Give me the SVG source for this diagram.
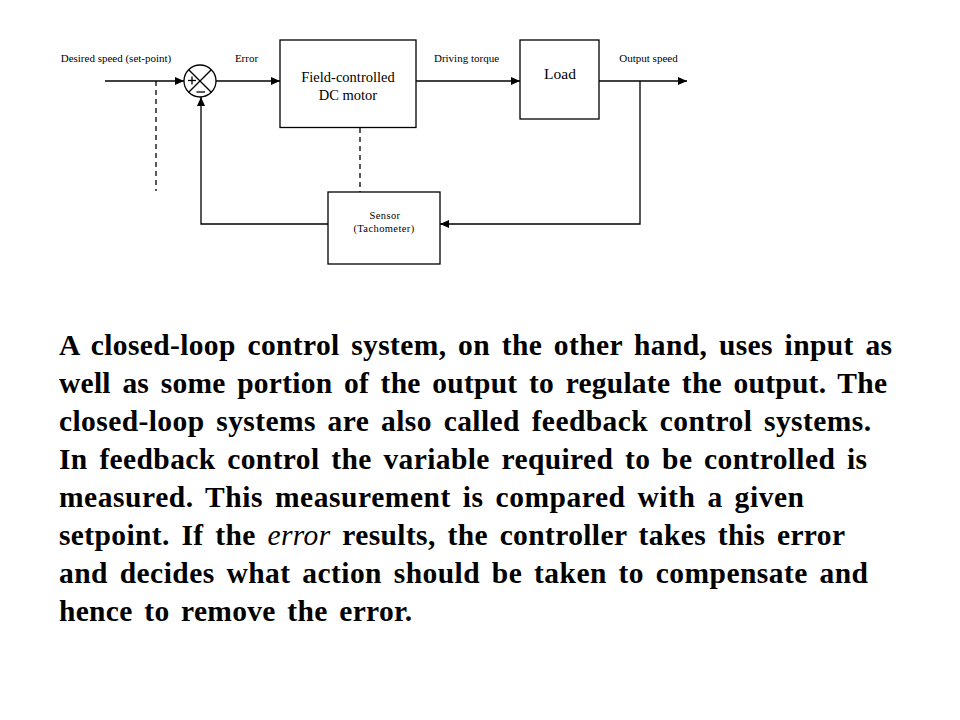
<svg xmlns="http://www.w3.org/2000/svg" width="960" height="720" viewBox="0 0 960 720">
<style>
.box{fill:#fff;stroke:#000;stroke-width:1.3}
.ln{fill:none;stroke:#000;stroke-width:1.3}
.dash{fill:none;stroke:#000;stroke-width:1.3;stroke-dasharray:5,4}
.lbl{font-family:"Liberation Serif","Times New Roman",serif;font-size:11px;fill:#000;text-anchor:middle}
.nt{font-family:"Liberation Serif","Times New Roman",serif;fill:#000;text-anchor:middle}
.para{font-family:"Liberation Serif","Times New Roman",serif;font-size:29.5px;font-weight:bold;fill:#000;word-spacing:4px}
</style>
<defs>
<marker id="arr" markerWidth="9" markerHeight="8" refX="9" refY="4" orient="auto" markerUnits="userSpaceOnUse">
<path d="M0,0 L9,4 L0,8 z" fill="#000"/>
</marker>
</defs>
<rect width="960" height="720" fill="#fff"/>

<g id="connectors">
<line class="ln" x1="105" y1="81" x2="184" y2="81" marker-end="url(#arr)"/>
<line class="ln" x1="216" y1="81" x2="280" y2="81" marker-end="url(#arr)"/>
<line class="ln" x1="416" y1="81" x2="520" y2="81" marker-end="url(#arr)"/>
<line class="ln" x1="599" y1="81" x2="687" y2="81" marker-end="url(#arr)"/>
<polyline class="ln" points="640,81 640,224 440,224" marker-end="url(#arr)"/>
<polyline class="ln" points="328,224 201,224 201,97" marker-end="url(#arr)"/>
<line class="dash" x1="156" y1="81" x2="156" y2="191"/>
<line class="dash" x1="360" y1="128" x2="360" y2="192"/>
</g>

<g id="labels">
<text class="lbl" x="116" y="62">Desired speed (set-point)</text>
<text class="lbl" x="246.5" y="62">Error</text>
<text class="lbl" x="466.5" y="62">Driving torque</text>
<text class="lbl" x="648.5" y="62">Output speed</text>
</g>

<g id="summing-junction">
<circle cx="200" cy="81" r="16" fill="#fff" stroke="#000" stroke-width="1.3"/>
<line class="ln" x1="188.7" y1="69.7" x2="211.3" y2="92.3"/>
<line class="ln" x1="211.3" y1="69.7" x2="188.7" y2="92.3"/>
<line class="ln" x1="188" y1="80.5" x2="196" y2="80.5" stroke-width="1"/>
<line class="ln" x1="192" y1="76.5" x2="192" y2="84.5" stroke-width="1"/>
<line class="ln" x1="196.5" y1="92" x2="205" y2="92" stroke-width="1"/>
</g>

<g id="motor">
<rect class="box" x="280" y="40" width="136" height="87.5"/>
<text class="nt" x="348" y="81.5" font-size="14.5">Field-controlled</text>
<text class="nt" x="348" y="100" font-size="14.5">DC motor</text>
</g>

<g id="load">
<rect class="box" x="520" y="40" width="79" height="79"/>
<text class="nt" x="560" y="79" font-size="15.5">Load</text>
</g>

<g id="sensor">
<rect class="box" x="328" y="192" width="112" height="72"/>
<text class="nt" x="385" y="219" font-size="10.5" letter-spacing="0.4">Sensor</text>
<text class="nt" x="384" y="232" font-size="10.5" letter-spacing="0.4">(Tachometer)</text>
</g>

<g id="paragraph">
<text class="para" x="59" y="355" textLength="833" lengthAdjust="spacing">A closed-loop control system, on the other hand, uses input as</text>
<text class="para" x="59" y="393" textLength="828" lengthAdjust="spacing">well as some portion of the output to regulate the output. The</text>
<text class="para" x="59" y="431" textLength="812" lengthAdjust="spacing">closed-loop systems are also called feedback control systems.</text>
<text class="para" x="59" y="469" textLength="808" lengthAdjust="spacing">In feedback control the variable required to be controlled is</text>
<text class="para" x="59" y="507" textLength="745" lengthAdjust="spacing">measured. This measurement is compared with a given</text>
<text class="para" x="59" y="545" textLength="786" lengthAdjust="spacing">setpoint. If the <tspan font-style="italic" font-weight="normal">error</tspan> results, the controller takes this error</text>
<text class="para" x="59" y="583" textLength="809" lengthAdjust="spacing">and decides what action should be taken to compensate and</text>
<text class="para" x="59" y="621" textLength="353" lengthAdjust="spacing">hence to remove the error.</text>
</g>
</svg>
